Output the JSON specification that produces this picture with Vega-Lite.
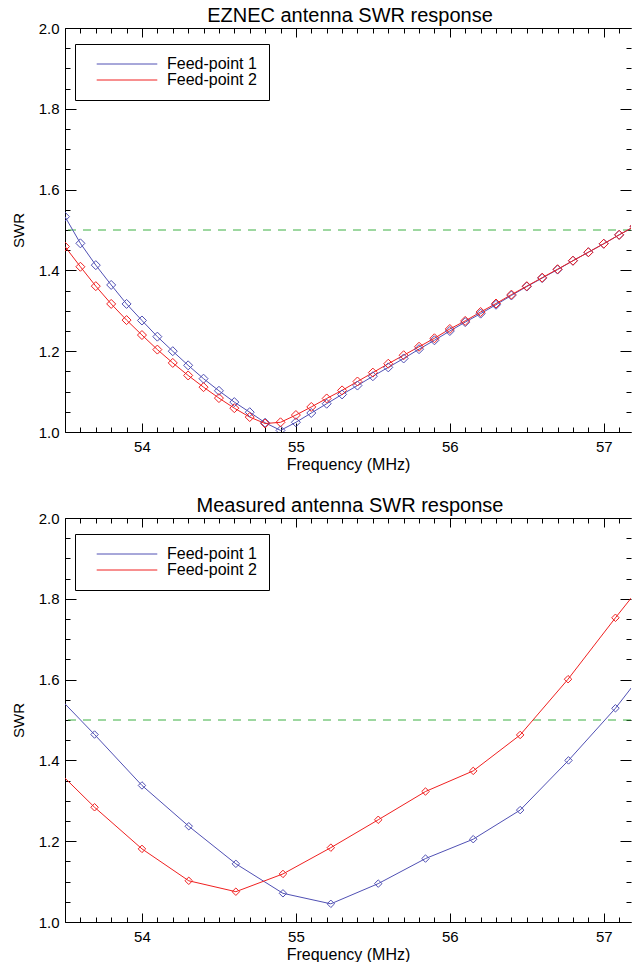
{
  "$schema": "https://vega.github.io/schema/vega-lite/v6.json",
  "padding": {"left": 11, "top": 6, "right": 0, "bottom": 0},
  "background": "white",
  "config": {
    "font": "Liberation Sans",
    "view": {"stroke": null},
    "axis": {"grid": false, "domainColor": "#000", "tickColor": "#000", "labelColor": "#000", "titleColor": "#000", "labelFontSize": 15, "titleFontSize": 16, "titleFontWeight": "normal", "labelOverlap": false, "labelFlush": false, "tickWidth": 1, "domainWidth": 1},
    "title": {"fontSize": 20, "fontWeight": "normal", "color": "#000", "baseline": "alphabetic", "offset": -5, "dx": 2},
    "legend": {"labelColor": "#000"}
  },
  "datasets": {
    "ez": [
      {"f": 53.5, "swr": 1.533, "s": "Feed-point 1"}, {"f": 53.6, "swr": 1.467, "s": "Feed-point 1"}, {"f": 53.7, "swr": 1.413, "s": "Feed-point 1"}, {"f": 53.8, "swr": 1.364, "s": "Feed-point 1"}, {"f": 53.9, "swr": 1.317, "s": "Feed-point 1"}, {"f": 54.0, "swr": 1.276, "s": "Feed-point 1"}, {"f": 54.1, "swr": 1.236, "s": "Feed-point 1"}, {"f": 54.2, "swr": 1.200, "s": "Feed-point 1"}, {"f": 54.3, "swr": 1.165, "s": "Feed-point 1"}, {"f": 54.4, "swr": 1.132, "s": "Feed-point 1"}, {"f": 54.5, "swr": 1.102, "s": "Feed-point 1"}, {"f": 54.6, "swr": 1.074, "s": "Feed-point 1"}, {"f": 54.7, "swr": 1.049, "s": "Feed-point 1"}, {"f": 54.8, "swr": 1.023, "s": "Feed-point 1"}, {"f": 54.9, "swr": 1.004, "s": "Feed-point 1"}, {"f": 55.0, "swr": 1.024, "s": "Feed-point 1"}, {"f": 55.1, "swr": 1.047, "s": "Feed-point 1"}, {"f": 55.2, "swr": 1.070, "s": "Feed-point 1"}, {"f": 55.3, "swr": 1.093, "s": "Feed-point 1"}, {"f": 55.4, "swr": 1.115, "s": "Feed-point 1"}, {"f": 55.5, "swr": 1.138, "s": "Feed-point 1"}, {"f": 55.6, "swr": 1.160, "s": "Feed-point 1"}, {"f": 55.7, "swr": 1.182, "s": "Feed-point 1"}, {"f": 55.8, "swr": 1.205, "s": "Feed-point 1"}, {"f": 55.9, "swr": 1.227, "s": "Feed-point 1"}, {"f": 56.0, "swr": 1.250, "s": "Feed-point 1"}, {"f": 56.1, "swr": 1.272, "s": "Feed-point 1"}, {"f": 56.2, "swr": 1.293, "s": "Feed-point 1"}, {"f": 56.3, "swr": 1.315, "s": "Feed-point 1"}, {"f": 56.4, "swr": 1.338, "s": "Feed-point 1"}, {"f": 56.5, "swr": 1.360, "s": "Feed-point 1"}, {"f": 56.6, "swr": 1.381, "s": "Feed-point 1"}, {"f": 56.7, "swr": 1.402, "s": "Feed-point 1"}, {"f": 56.8, "swr": 1.424, "s": "Feed-point 1"}, {"f": 56.9, "swr": 1.445, "s": "Feed-point 1"}, {"f": 57.0, "swr": 1.466, "s": "Feed-point 1"}, {"f": 57.1, "swr": 1.488, "s": "Feed-point 1"}, {"f": 57.2, "swr": 1.509, "s": "Feed-point 1"},
      {"f": 53.5, "swr": 1.459, "s": "Feed-point 2"}, {"f": 53.6, "swr": 1.409, "s": "Feed-point 2"}, {"f": 53.7, "swr": 1.361, "s": "Feed-point 2"}, {"f": 53.8, "swr": 1.317, "s": "Feed-point 2"}, {"f": 53.9, "swr": 1.277, "s": "Feed-point 2"}, {"f": 54.0, "swr": 1.240, "s": "Feed-point 2"}, {"f": 54.1, "swr": 1.204, "s": "Feed-point 2"}, {"f": 54.2, "swr": 1.171, "s": "Feed-point 2"}, {"f": 54.3, "swr": 1.140, "s": "Feed-point 2"}, {"f": 54.4, "swr": 1.111, "s": "Feed-point 2"}, {"f": 54.5, "swr": 1.084, "s": "Feed-point 2"}, {"f": 54.6, "swr": 1.059, "s": "Feed-point 2"}, {"f": 54.7, "swr": 1.037, "s": "Feed-point 2"}, {"f": 54.8, "swr": 1.021, "s": "Feed-point 2"}, {"f": 54.9, "swr": 1.024, "s": "Feed-point 2"}, {"f": 55.0, "swr": 1.042, "s": "Feed-point 2"}, {"f": 55.1, "swr": 1.062, "s": "Feed-point 2"}, {"f": 55.2, "swr": 1.083, "s": "Feed-point 2"}, {"f": 55.3, "swr": 1.103, "s": "Feed-point 2"}, {"f": 55.4, "swr": 1.125, "s": "Feed-point 2"}, {"f": 55.5, "swr": 1.147, "s": "Feed-point 2"}, {"f": 55.6, "swr": 1.169, "s": "Feed-point 2"}, {"f": 55.7, "swr": 1.190, "s": "Feed-point 2"}, {"f": 55.8, "swr": 1.211, "s": "Feed-point 2"}, {"f": 55.9, "swr": 1.232, "s": "Feed-point 2"}, {"f": 56.0, "swr": 1.255, "s": "Feed-point 2"}, {"f": 56.1, "swr": 1.275, "s": "Feed-point 2"}, {"f": 56.2, "swr": 1.297, "s": "Feed-point 2"}, {"f": 56.3, "swr": 1.318, "s": "Feed-point 2"}, {"f": 56.4, "swr": 1.340, "s": "Feed-point 2"}, {"f": 56.5, "swr": 1.361, "s": "Feed-point 2"}, {"f": 56.6, "swr": 1.382, "s": "Feed-point 2"}, {"f": 56.7, "swr": 1.403, "s": "Feed-point 2"}, {"f": 56.8, "swr": 1.424, "s": "Feed-point 2"}, {"f": 56.9, "swr": 1.445, "s": "Feed-point 2"}, {"f": 57.0, "swr": 1.466, "s": "Feed-point 2"}, {"f": 57.1, "swr": 1.488, "s": "Feed-point 2"}, {"f": 57.2, "swr": 1.509, "s": "Feed-point 2"}
    ],
    "meas": [
      {"f": 53.386, "swr": 1.585, "s": "Feed-point 1"}, {"f": 53.692, "swr": 1.464, "s": "Feed-point 1"}, {"f": 54.0, "swr": 1.338, "s": "Feed-point 1"}, {"f": 54.304, "swr": 1.237, "s": "Feed-point 1"}, {"f": 54.61, "swr": 1.144, "s": "Feed-point 1"}, {"f": 54.916, "swr": 1.071, "s": "Feed-point 1"}, {"f": 55.227, "swr": 1.045, "s": "Feed-point 1"}, {"f": 55.535, "swr": 1.095, "s": "Feed-point 1"}, {"f": 55.842, "swr": 1.157, "s": "Feed-point 1"}, {"f": 56.152, "swr": 1.205, "s": "Feed-point 1"}, {"f": 56.457, "swr": 1.277, "s": "Feed-point 1"}, {"f": 56.771, "swr": 1.400, "s": "Feed-point 1"}, {"f": 57.076, "swr": 1.529, "s": "Feed-point 1"}, {"f": 57.383, "swr": 1.68, "s": "Feed-point 1"},
      {"f": 53.386, "swr": 1.399, "s": "Feed-point 2"}, {"f": 53.692, "swr": 1.284, "s": "Feed-point 2"}, {"f": 54.0, "swr": 1.181, "s": "Feed-point 2"}, {"f": 54.304, "swr": 1.102, "s": "Feed-point 2"}, {"f": 54.61, "swr": 1.075, "s": "Feed-point 2"}, {"f": 54.916, "swr": 1.119, "s": "Feed-point 2"}, {"f": 55.227, "swr": 1.184, "s": "Feed-point 2"}, {"f": 55.535, "swr": 1.253, "s": "Feed-point 2"}, {"f": 55.842, "swr": 1.323, "s": "Feed-point 2"}, {"f": 56.152, "swr": 1.374, "s": "Feed-point 2"}, {"f": 56.457, "swr": 1.463, "s": "Feed-point 2"}, {"f": 56.768, "swr": 1.601, "s": "Feed-point 2"}, {"f": 57.076, "swr": 1.753, "s": "Feed-point 2"}, {"f": 57.383, "swr": 1.90, "s": "Feed-point 2"}
    ]
  },
  "spacing": 24,
  "resolve": {"scale": {"color": "independent"}, "legend": {"color": "independent"}},
  "vconcat": [
    {
      "title": "EZNEC antenna SWR response",
      "width": 566,
      "height": 404,
      "layer": [
        {
          "data": {"values": [{}]},
          "mark": {"type": "rule", "stroke": "#3cb043", "strokeDash": [8, 7], "strokeWidth": 1},
          "encoding": {"y": {"datum": 1.5, "type": "quantitative", "axis": null}}
        },
        {
          "data": {"name": "ez"},
          "mark": {"type": "line", "strokeWidth": 1, "clip": true},
          "encoding": {
            "x": {"field": "f", "type": "quantitative", "scale": {"domain": [53.5, 57.177], "nice": false, "zero": false},
              "axis": {"orient": "bottom", "values": [53.5,53.6,53.7,53.8,53.9,54.0,54.1,54.2,54.3,54.4,54.5,54.6,54.7,54.8,54.9,55.0,55.1,55.2,55.3,55.4,55.5,55.6,55.7,55.8,55.9,56.0,56.1,56.2,56.3,56.4,56.5,56.6,56.7,56.8,56.9,57.0,57.1],
                "tickSize": {"expr": "abs(datum.value - round(datum.value)) < 0.001 ? -9 : -5"},
                "labelExpr": "abs(datum.value - round(datum.value)) < 0.001 ? format(datum.value, 'd') : ''",
                "labelPadding": 16, "title": "Frequency (MHz)", "titlePadding": -2}},
            "y": {"field": "swr", "type": "quantitative", "scale": {"domain": [1, 2], "nice": false, "zero": false},
              "axis": {"orient": "left", "values": [1.0,1.05,1.1,1.15,1.2,1.25,1.3,1.35,1.4,1.45,1.5,1.55,1.6,1.65,1.7,1.75,1.8,1.85,1.9,1.95,2.0],
                "tickSize": {"expr": "abs(datum.value*5 - round(datum.value*5)) < 0.001 ? -11 : -5"},
                "labelExpr": "abs(datum.value*5 - round(datum.value*5)) < 0.001 ? format(datum.value, '.1f') : ''",
                "labelPadding": 17, "title": "SWR", "titleFontSize": 15, "titlePadding": 12}},
            "color": {"field": "s", "type": "nominal", "scale": {"domain": ["Feed-point 1", "Feed-point 2"], "range": ["#5050b4", "#f02020"]},
              "legend": {"orient": "none", "legendX": 10, "legendY": 16, "title": null, "symbolType": "stroke", "symbolSize": 3670, "symbolStrokeWidth": 1, "clipHeight": 16, "labelFontSize": 16, "labelOffset": 9, "padding": 12, "symbolOffset": 9, "strokeColor": "#000", "fillColor": "#fff", "rowPadding": 0, "labelLimit": 300}}
          }
        },
        {
          "data": {"name": "ez"},
          "mark": {"type": "point", "shape": "diamond", "filled": false, "size": 81, "strokeWidth": 1, "clip": true, "opacity": 1},
          "encoding": {
            "x": {"field": "f", "type": "quantitative",
              "axis": {"orient": "top", "values": [53.5,53.6,53.7,53.8,53.9,54.0,54.1,54.2,54.3,54.4,54.5,54.6,54.7,54.8,54.9,55.0,55.1,55.2,55.3,55.4,55.5,55.6,55.7,55.8,55.9,56.0,56.1,56.2,56.3,56.4,56.5,56.6,56.7,56.8,56.9,57.0,57.1],
                "tickSize": {"expr": "abs(datum.value - round(datum.value)) < 0.001 ? -9 : -5"}, "labels": false, "title": null, "minExtent": 0, "maxExtent": 0}},
            "y": {"field": "swr", "type": "quantitative",
              "axis": {"orient": "right", "values": [1.0,1.05,1.1,1.15,1.2,1.25,1.3,1.35,1.4,1.45,1.5,1.55,1.6,1.65,1.7,1.75,1.8,1.85,1.9,1.95,2.0],
                "tickSize": {"expr": "abs(datum.value*5 - round(datum.value*5)) < 0.001 ? -11 : -5"}, "labels": false, "title": null, "domain": false, "minExtent": 0, "maxExtent": 0}},
            "color": {"field": "s", "type": "nominal"}
          }
        }
      ]
    },
    {
      "title": "Measured antenna SWR response",
      "width": 566,
      "height": 404,
      "layer": [
        {
          "data": {"values": [{}]},
          "mark": {"type": "rule", "stroke": "#3cb043", "strokeDash": [8, 7], "strokeWidth": 1},
          "encoding": {"y": {"datum": 1.5, "type": "quantitative", "axis": null}}
        },
        {
          "data": {"name": "meas"},
          "mark": {"type": "line", "strokeWidth": 1, "clip": true},
          "encoding": {
            "x": {"field": "f", "type": "quantitative", "scale": {"domain": [53.5, 57.177], "nice": false, "zero": false},
              "axis": {"orient": "bottom", "values": [53.5,53.6,53.7,53.8,53.9,54.0,54.1,54.2,54.3,54.4,54.5,54.6,54.7,54.8,54.9,55.0,55.1,55.2,55.3,55.4,55.5,55.6,55.7,55.8,55.9,56.0,56.1,56.2,56.3,56.4,56.5,56.6,56.7,56.8,56.9,57.0,57.1],
                "tickSize": {"expr": "abs(datum.value - round(datum.value)) < 0.001 ? -9 : -5"},
                "labelExpr": "abs(datum.value - round(datum.value)) < 0.001 ? format(datum.value, 'd') : ''",
                "labelPadding": 16, "title": "Frequency (MHz)", "titlePadding": -2}},
            "y": {"field": "swr", "type": "quantitative", "scale": {"domain": [1, 2], "nice": false, "zero": false},
              "axis": {"orient": "left", "values": [1.0,1.05,1.1,1.15,1.2,1.25,1.3,1.35,1.4,1.45,1.5,1.55,1.6,1.65,1.7,1.75,1.8,1.85,1.9,1.95,2.0],
                "tickSize": {"expr": "abs(datum.value*5 - round(datum.value*5)) < 0.001 ? -11 : -5"},
                "labelExpr": "abs(datum.value*5 - round(datum.value*5)) < 0.001 ? format(datum.value, '.1f') : ''",
                "labelPadding": 17, "title": "SWR", "titleFontSize": 15, "titlePadding": 12}},
            "color": {"field": "s", "type": "nominal", "scale": {"domain": ["Feed-point 1", "Feed-point 2"], "range": ["#5050b4", "#f02020"]},
              "legend": {"orient": "none", "legendX": 10, "legendY": 16, "title": null, "symbolType": "stroke", "symbolSize": 3670, "symbolStrokeWidth": 1, "clipHeight": 16, "labelFontSize": 16, "labelOffset": 9, "padding": 12, "symbolOffset": 9, "strokeColor": "#000", "fillColor": "#fff", "rowPadding": 0, "labelLimit": 300}}
          }
        },
        {
          "data": {"name": "meas"},
          "mark": {"type": "point", "shape": "diamond", "filled": false, "size": 56, "strokeWidth": 1, "clip": true, "opacity": 1},
          "encoding": {
            "x": {"field": "f", "type": "quantitative",
              "axis": {"orient": "top", "values": [53.5,53.6,53.7,53.8,53.9,54.0,54.1,54.2,54.3,54.4,54.5,54.6,54.7,54.8,54.9,55.0,55.1,55.2,55.3,55.4,55.5,55.6,55.7,55.8,55.9,56.0,56.1,56.2,56.3,56.4,56.5,56.6,56.7,56.8,56.9,57.0,57.1],
                "tickSize": {"expr": "abs(datum.value - round(datum.value)) < 0.001 ? -9 : -5"}, "labels": false, "title": null, "minExtent": 0, "maxExtent": 0}},
            "y": {"field": "swr", "type": "quantitative",
              "axis": {"orient": "right", "values": [1.0,1.05,1.1,1.15,1.2,1.25,1.3,1.35,1.4,1.45,1.5,1.55,1.6,1.65,1.7,1.75,1.8,1.85,1.9,1.95,2.0],
                "tickSize": {"expr": "abs(datum.value*5 - round(datum.value*5)) < 0.001 ? -11 : -5"}, "labels": false, "title": null, "domain": false, "minExtent": 0, "maxExtent": 0}},
            "color": {"field": "s", "type": "nominal"}
          }
        }
      ]
    }
  ]
}
